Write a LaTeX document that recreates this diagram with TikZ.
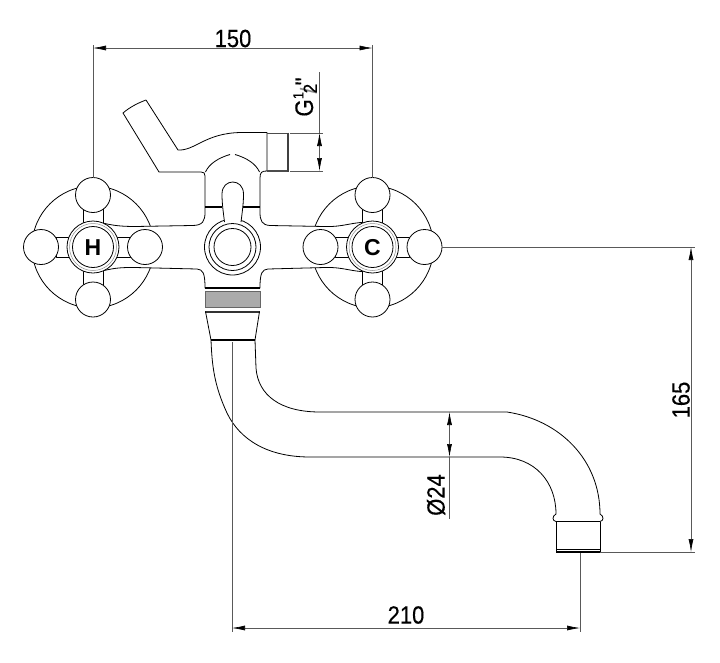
\documentclass[tikz,border=0pt]{standalone}
\usepackage{graphicx}
\usepackage{fontspec}
\setmainfont{Liberation Sans}
\newfontfamily\dimfont[FakeBold=0.3]{Liberation Sans}
\usetikzlibrary{arrows.meta}
\newcommand{\tallbox}[1]{\scalebox{1}[1.13]{#1}}
\tikzset{
  outline/.style={black,line width=0.8pt,line join=round},
  heavy/.style={black,line width=2pt},
  dimline/.style={black!65,line width=0.6pt},
  dimarrow/.style={black!65,line width=0.6pt,{Latex[black,length=13pt,width=5pt]}-{Latex[black,length=13pt,width=5pt]}},
  dimtip/.style={-{Latex[black,length=13pt,width=5pt]}},
  dimtext/.style={font=\dimfont\fontsize{22}{22}\selectfont,inner sep=0pt},
  ball/.style={outline,fill=white}
}
\begin{document}
\begin{tikzpicture}[x=1pt,y=-1pt]
\useasboundingbox (0,0) rectangle (720,662);
% rosettes behind the body
\draw[outline] (93,247) circle (61);
\draw[outline] (372.5,247) circle (61);
% body with lever and outlet stub
\draw[outline,fill=white] (93,222) .. controls (105,222) and (108,226.5) .. (135,226.5)
  -- (192,225.5) .. controls (203,225.5) and (205,221) .. (205,212)
  -- (205,176) .. controls (205,173) and (204,172) .. (201,172)
  -- (159,172) -- (123,113) .. controls (130,107) and (138,103) .. (146,100)
  -- (178,150) .. controls (195,151) and (205,133) .. (241,132.5)
  -- (267,132.5) -- (267,171) .. controls (262,171) and (260,172) .. (260,178)
  -- (260,212) .. controls (260,221) and (262,225) .. (270,225.5)
  -- (325,226.5) .. controls (345,227) and (350,222) .. (372,222)
  -- (372,272) .. controls (350,272) and (345,267) .. (325,267.5)
  -- (268,269) .. controls (262,269.5) and (260,273) .. (260,288)
  -- (205,288) .. controls (205,273) and (203,269.5) .. (197,269)
  -- (135,267.5) .. controls (108,267) and (105,272) .. (93,272) -- cycle;
% arch over the valve
\draw[outline] (205.5,172) .. controls (209,164) and (218,158) .. (230,154.5);
\draw[outline] (235,154.5) .. controls (247,158) and (256,164) .. (259.5,172);
\draw[heavy] (205,206.5) -- (222,206.5) (243,206.5) -- (260,206.5);
% outlet stub
\draw[black!70,line width=1.4pt] (267,133.5) -- (288,133.5) (267,171) -- (288,171);
\draw[heavy,black!75] (288,132.5) -- (288,172);
% centre valve
\draw[outline,fill=white] (232.5,247) circle (28);
\draw[outline] (232.5,247) circle (23.5);
\draw[outline] (232.5,247) circle (18.5);
\draw[outline,fill=white] (224.5,222) .. controls (223,210) and (222,203) .. (222,194)
  .. controls (222,178) and (243.5,178) .. (243.5,194)
  .. controls (243.5,203) and (242.5,210) .. (241,222);
% knobs
\foreach \knobx/\knobname in {93/H,372.5/C} {
  \draw[outline,fill=white] (\knobx-10,205) rectangle (\knobx+10,289);
  \draw[outline,fill=white] (\knobx-37,237) rectangle (\knobx+37,257);
  \draw[ball] (\knobx,195) circle (17.5);
  \draw[ball] (\knobx,299.5) circle (17.5);
  \draw[ball] (\knobx-52,247) circle (17.5);
  \draw[ball] (\knobx+52,247) circle (17.5);
  \draw[outline,fill=white] (\knobx,247) circle (26);
  \draw[black!45,line width=0.5pt] (\knobx,247) circle (23.5);
  \draw[outline] (\knobx,247) circle (20.5);
  \node[font=\fontsize{23}{23}\selectfont\bfseries,inner sep=0pt] (knob\knobname) at (\knobx,248) {\knobname};
}
% coupling
\fill[black!33] (205,291) rectangle (260,307.5);
\draw[black!60,line width=0.7pt] (205,291) rectangle (260,307.5);
\draw[heavy] (205,288) -- (260,288);
\draw[heavy,black!80] (205,311.5) -- (260,311.5);
\draw[outline] (205.5,311.5) -- (211,340) (259.5,311.5) -- (255,340);
\draw[heavy] (211,340) -- (255,340);
% spout
\draw[outline] (211,340) .. controls (212,365) and (214,385) .. (227,413)
  .. controls (240,440) and (268,457) .. (310,457) -- (500,457)
  .. controls (535,457) and (556,482) .. (556,514);
\draw[outline] (255,340) -- (256,368) .. controls (258,395) and (280,412) .. (320,412)
  -- (507,412) .. controls (560,420) and (600,460) .. (600,514);
\draw[outline] (556,514) .. controls (552,516) and (552,521) .. (556,521.5) -- (600,521.5)
  .. controls (604,521) and (604,516) .. (600,514);
\draw[outline] (556,521.5) -- (556,552) (600,521.5) -- (600,552);
\draw[heavy] (556,552) -- (600,552);
\draw[outline] (556,549) -- (600,549);
% dimensions
\coordinate (w1) at (93,48);
\coordinate (w2) at (372.5,48);
\draw[dimline] (93,45) -- (93,178) (372.5,45) -- (372.5,178);
\draw[dimarrow] (w1) -- (w2);
\node[dimtext] (wtext) at (233,38.5) {\tallbox{150}};
\coordinate (t1) at (319.5,133);
\coordinate (t2) at (319.5,171);
\coordinate (tm) at (319.5,152);
\draw[dimline] (290,133) -- (323,133) (290,171) -- (323,171);
\draw[dimline] (319.5,72) -- (t1);
\draw[dimline,dimtip] (tm) -- (t1);
\draw[dimline,dimtip] (tm) -- (t2);
\node[dimtext,rotate=90,anchor=base] (ttext) at (313,97) {\tallbox{\fontsize{22.5}{22.5}\selectfont G\raisebox{8.5pt}{\fontsize{13}{13}\selectfont 1}\kern-1.5pt\raisebox{-3pt}{\textcolor{black!45}{\fontsize{20}{20}\selectfont/}}\kern-5.5pt\raisebox{-3.5pt}{\fontsize{17}{17}\selectfont 2}\kern-1.5pt\raisebox{0pt}{"}}};
\coordinate (h1) at (691,247);
\coordinate (h2) at (691,552);
\draw[dimline] (442,247) -- (695,247) (600,552) -- (695,552);
\draw[dimarrow] (h1) -- (h2);
\node[dimtext,rotate=90] (htext) at (681,400) {\tallbox{165}};
\coordinate (l1) at (232,628);
\coordinate (l2) at (580,628);
\draw[dimline] (232,342) -- (232,632) (580,553) -- (580,632);
\draw[dimarrow] (l1) -- (l2);
\node[dimtext] (ltext) at (406,615) {\tallbox{210}};
\coordinate (d1) at (449.5,412);
\coordinate (d2) at (449.5,457);
\coordinate (dm) at (449.5,434.5);
\draw[dimline] (d2) -- (449.5,519);
\draw[dimline,dimtip] (dm) -- (d1);
\draw[dimline,dimtip] (dm) -- (d2);
\node[dimtext,rotate=90] (dtext) at (436,495) {\tallbox{Ø24}};
\end{tikzpicture}
\end{document}
